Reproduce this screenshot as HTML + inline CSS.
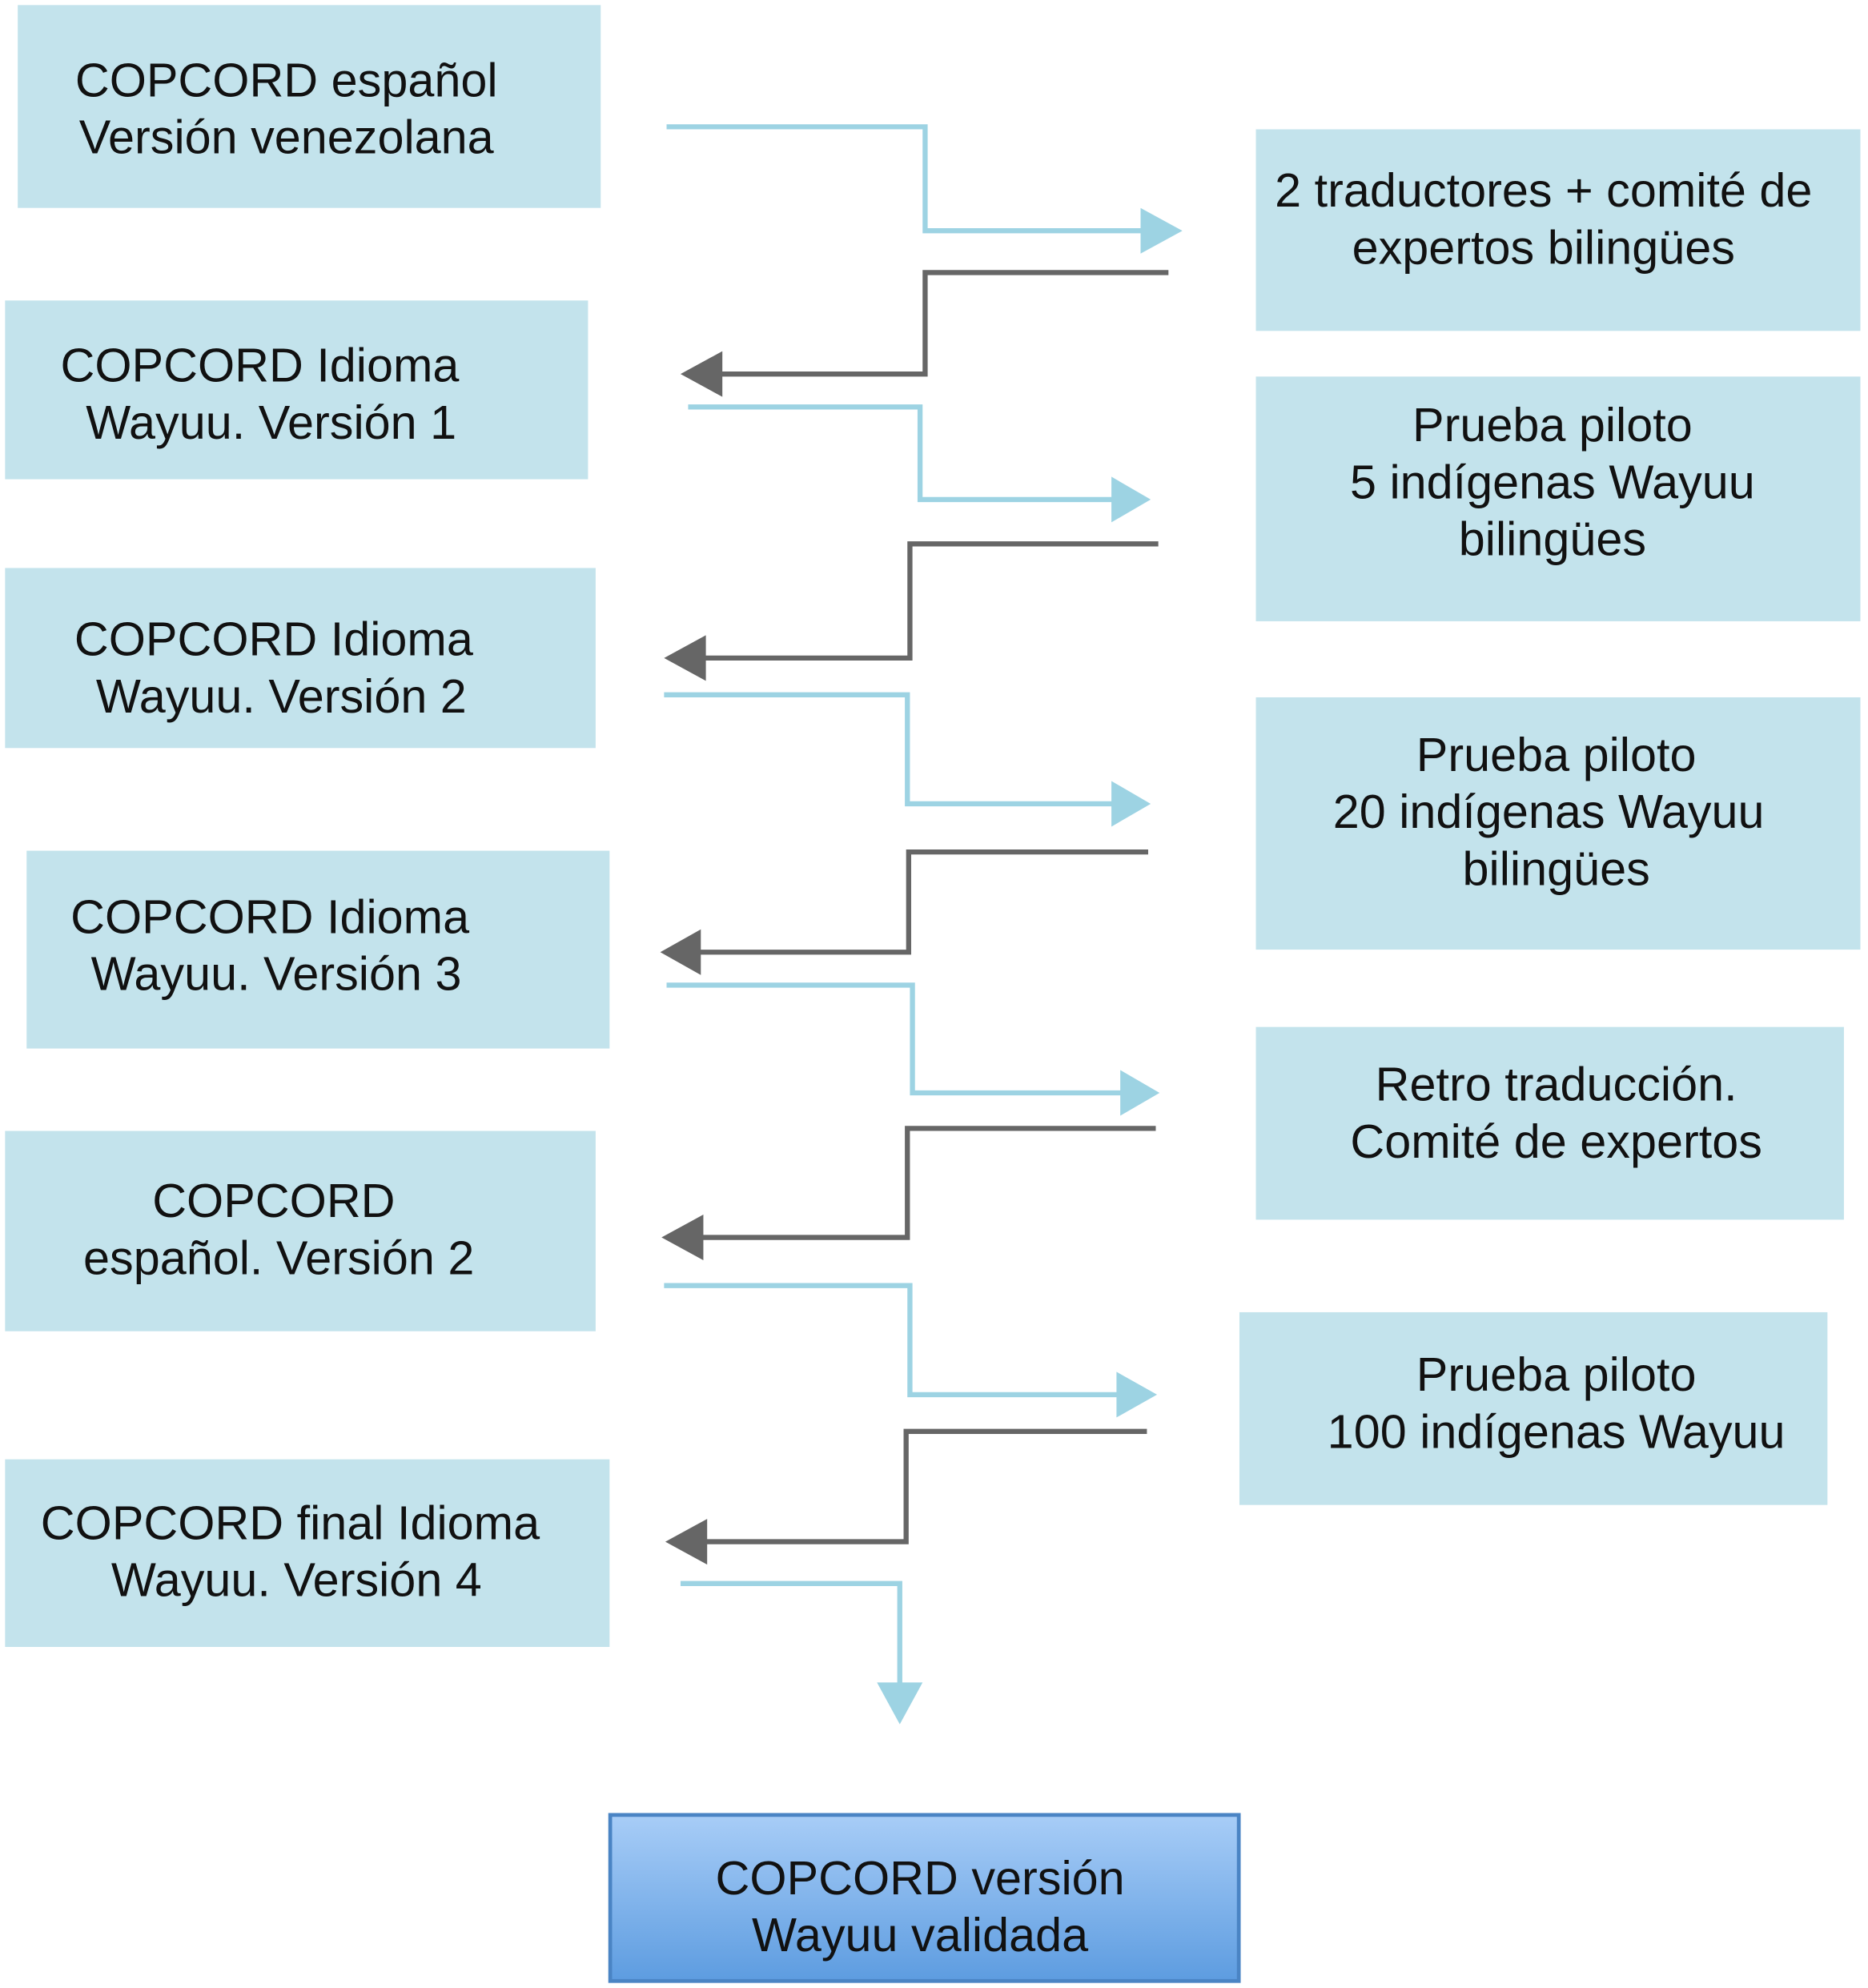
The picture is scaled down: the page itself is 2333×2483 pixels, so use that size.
<!DOCTYPE html>
<html><head><meta charset="utf-8"><style>
html,body{margin:0;padding:0;background:#fff;}
svg{display:block;}
text{font-family:"Liberation Sans",Arial,sans-serif;font-size:37.5px;fill:#111;text-anchor:middle;}
</style></head><body>
<svg width="2333" height="2483" viewBox="0 0 1474 1568" preserveAspectRatio="none" xmlns="http://www.w3.org/2000/svg">
<defs>
<linearGradient id="g" x1="0" y1="0" x2="0" y2="1">
<stop offset="0" stop-color="#a8cdf7"/><stop offset="1" stop-color="#5d9ce0"/>
</linearGradient>
</defs>
<g fill="#c3e3ec">
<rect x="14" y="4" width="460" height="160"/>
<rect x="4" y="237" width="460" height="141"/>
<rect x="4" y="448" width="466" height="142"/>
<rect x="21" y="671" width="460" height="156"/>
<rect x="4" y="892" width="466" height="158"/>
<rect x="4" y="1151" width="477" height="148"/>
<rect x="991" y="102" width="477" height="159"/>
<rect x="991" y="297" width="477" height="193"/>
<rect x="991" y="550" width="477" height="199"/>
<rect x="991" y="810" width="464" height="152"/>
<rect x="978" y="1035" width="464" height="152"/>
</g>
<rect x="481.5" y="1431.5" width="496" height="131" fill="url(#g)" stroke="#4a84c4" stroke-width="3"/>

<g fill="none" stroke-width="4">
<path d="M526 100 H730 V182 H905" stroke="#9dd3e3"/>
<path d="M543 321 H726 V394 H880" stroke="#9dd3e3"/>
<path d="M524 548 H716 V634 H880" stroke="#9dd3e3"/>
<path d="M526 777 H720 V862 H886" stroke="#9dd3e3"/>
<path d="M524 1014 H718 V1100 H883" stroke="#9dd3e3"/>
<path d="M537 1249 H710 V1330" stroke="#9dd3e3"/>
<path d="M922 215 H730 V295 H568" stroke="#666"/>
<path d="M914 429 H718 V519 H555" stroke="#666"/>
<path d="M906 672 H717 V751 H551" stroke="#666"/>
<path d="M912 890 H716 V976 H553" stroke="#666"/>
<path d="M905 1129 H715 V1216 H556" stroke="#666"/>
</g>
<g fill="#9dd3e3">
<polygon points="900,164 933,182 900,200"/>
<polygon points="877,376 908,394 877,412"/>
<polygon points="877,616 908,634 877,652"/>
<polygon points="884,844 915,862 884,880"/>
<polygon points="881,1082 913,1100 881,1118"/>
<polygon points="692,1327 728,1327 710,1360"/>
</g>
<g fill="#666">
<polygon points="570,277 537,295 570,313"/>
<polygon points="557,501 524,519 557,537"/>
<polygon points="553,733 521,751 553,769"/>
<polygon points="555,958 522,976 555,994"/>
<polygon points="558,1198 525,1216 558,1234"/>
</g>

<text x="226" y="76">COPCORD español</text>
<text x="226" y="121">Versión venezolana</text>
<text x="205" y="301">COPCORD Idioma</text>
<text x="214" y="346">Wayuu. Versión 1</text>
<text x="216" y="517">COPCORD Idioma</text>
<text x="222" y="562">Wayuu. Versión 2</text>
<text x="213" y="736">COPCORD Idioma</text>
<text x="218" y="781">Wayuu. Versión 3</text>
<text x="216" y="960">COPCORD</text>
<text x="220" y="1005">español. Versión 2</text>
<text x="229" y="1214">COPCORD final Idioma</text>
<text x="234" y="1259">Wayuu. Versión 4</text>
<text x="1218" y="163">2 traductores + comité de</text>
<text x="1218" y="208">expertos bilingües</text>
<text x="1225" y="348">Prueba piloto</text>
<text x="1225" y="393">5 indígenas Wayuu</text>
<text x="1225" y="438">bilingües</text>
<text x="1228" y="608">Prueba piloto</text>
<text x="1222" y="653">20 indígenas Wayuu</text>
<text x="1228" y="698">bilingües</text>
<text x="1228" y="868">Retro traducción.</text>
<text x="1228" y="913">Comité de expertos</text>
<text x="1228" y="1097">Prueba piloto</text>
<text x="1228" y="1142">100 indígenas Wayuu</text>
<text x="726" y="1494">COPCORD versión</text>
<text x="726" y="1539">Wayuu validada</text>
</svg>
</body></html>
